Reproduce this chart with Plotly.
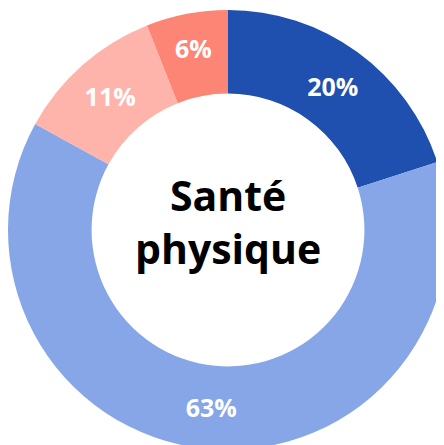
import plotly.graph_objects as go

labels = ["Catégorie A", "Catégorie B", "Catégorie C", "Catégorie D"]
values = [20, 63, 11, 6]
colors = ["#1F4FAF", "#86A6E8", "#FEB4AA", "#FD8575"]
center_text = "Santé<br>physique"

fig = go.Figure(
    go.Pie(
        labels=labels,
        values=values,
        hole=0.62,
        sort=False,
        direction="clockwise",
        rotation=0,
        marker=dict(colors=colors, line=dict(width=0)),
        texttemplate="%{value}%",
        textposition="inside",
        insidetextorientation="horizontal",
        textfont=dict(family="Open Sans", size=25, color="white", weight="bold"),
        showlegend=False,
        hoverinfo="label+percent",
    )
)
fig.add_annotation(
    x=0.5, y=0.52, xref="paper", yref="paper",
    xanchor="center", yanchor="middle",
    text=f"<b>{center_text}</b>",
    showarrow=False,
    font=dict(family="Open Sans", size=41, color="black"),
)
fig.update_layout(
    width=440, height=442,
    margin=dict(l=0, r=0, t=2, b=0),
    paper_bgcolor="white", plot_bgcolor="white",
)
fig.write_html("out.html")
